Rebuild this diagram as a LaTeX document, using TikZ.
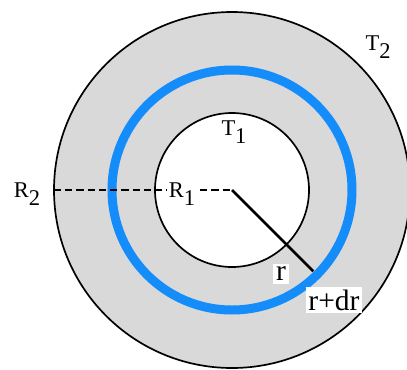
\documentclass[tikz,border=0pt]{standalone}
\usepackage{fontspec}
\setmainfont{Liberation Serif}
\definecolor{ringblue}{RGB}{20,140,250}
\definecolor{wallgray}{RGB}{217,217,217}
\newcommand{\lowsub}[1]{\raisebox{-0.35em}{#1}}
\tikzset{
  lbl/.style={font=\fontsize{16}{18}\selectfont, inner sep=1pt},
  rlbl/.style={fill=white, font=\fontsize{21}{23}\selectfont, inner sep=2pt}
}

\begin{document}
\begin{tikzpicture}[x=0.025cm,y=0.025cm]
\useasboundingbox (-232,-179) rectangle (175,190);
\coordinate (O) at (0,0);
\fill[wallgray] (O) circle (178);
\fill[white] (O) circle (77);
\draw[ringblue, line width=6.4pt] (O) circle (120);
\draw[line width=1.2pt] (O) circle (178);
\draw[line width=1.2pt] (O) circle (77);

\coordinate (edge) at (180:178);
\coordinate (tip) at (-45:115);
\draw[dash pattern=on 5pt off 3pt, line width=0.9pt] (edge) -- (O);
\draw[line width=1.8pt] (O) -- (tip);

\node[lbl, fill=white] (R1) at (-50,-4) {R\lowsub{1}};
\node[lbl] (R2) at (-205,-4) {R\lowsub{2}};
\node[lbl] (T1) at (2,58) {T\lowsub{1}};
\node[lbl] (T2) at (146,143) {T\lowsub{2}};
\node[rlbl] (r) at (49,-84) {r};
\node[rlbl] (rdr) at (102,-110) {r+dr};
\end{tikzpicture}
\end{document}
